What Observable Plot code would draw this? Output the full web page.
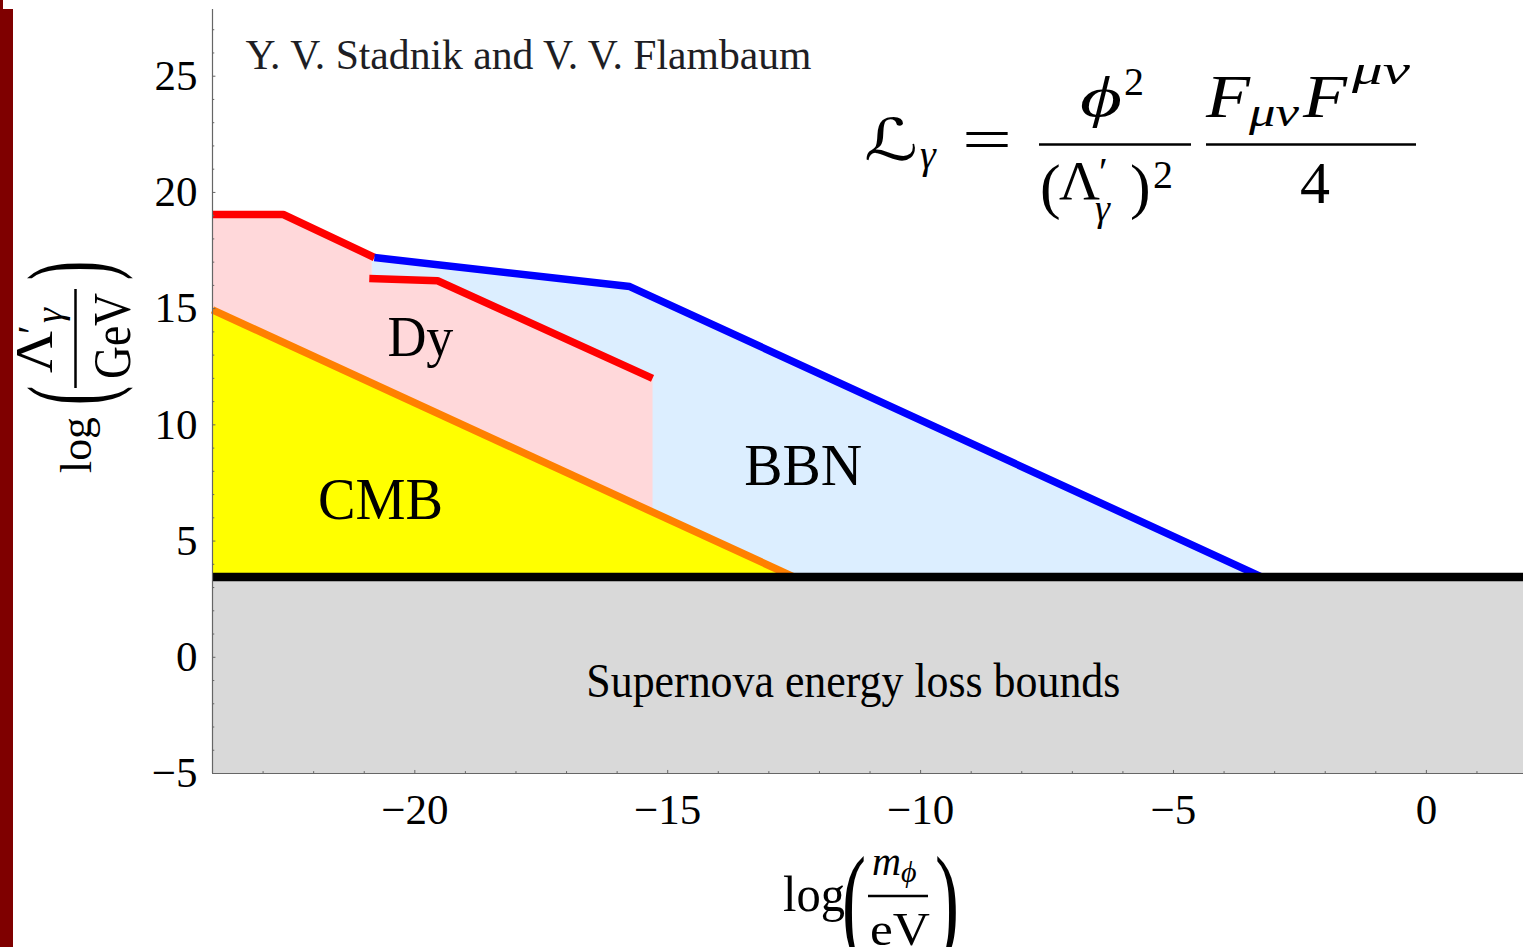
<!DOCTYPE html>
<html>
<head>
<meta charset="utf-8">
<script src="https://cdn.jsdelivr.net/npm/d3@7"></script>
<script src="https://cdn.jsdelivr.net/npm/@observablehq/plot@0.6"></script>
<style>
  html, body { margin: 0; padding: 0; background: #fff; overflow: hidden; }
  #wrap { position: relative; width: 1523px; height: 947px; }
  #strip { position: absolute; left: 0; top: 9px; width: 13px; height: 938px; background: #7f0000; }
  #strip2 { position: absolute; left: 0; top: 0; width: 3px; height: 9px; background: #7f0000; }
  #chart { position: absolute; left: 0; top: 0; }
</style>
</head>
<body>
<div id="wrap">
  <div id="chart"></div>
  <div id="strip"></div>
  <div id="strip2"></div>
</div>
<script>
// ---------- data ----------
const xDomain = [-24, 1.92];
const yDomain = [-5, 27.87];
const supernovaBound = 3.45;
const xTicks = [-20, -15, -10, -5, 0];
const yTicks = [-5, 0, 5, 10, 15, 20, 25];

// boundary curves [log m, log Lambda]
const redUpper  = [[-24, 19.05], [-22.6, 19.05], [-20.8, 17.2]];
const redLower  = [[-20.9, 16.3], [-19.55, 16.2], [-15.3, 12.0]];
const blueBBN   = [[-20.8, 17.2], [-15.75, 15.95], [-3.25, 3.45]];
const orangeCMB = [[-24, 14.95], [-12.5, 3.45]];

// shaded regions (polygons)
const bbnRegion = [[-20.85, 17.2], [-15.75, 15.95], [-3.25, 3.45], [-20.85, 3.45]];
const dyRegion  = [[-24, 19.05], [-22.6, 19.05], [-20.85, 17.2], [-20.85, 16.3], [-19.55, 16.2],
                   [-15.3, 12.0], [-15.3, 6.25], [-24, 14.95]];
const cmbRegion = [[-24, 14.95], [-12.5, 3.45], [-24, 3.45]];
const snRegion  = [{x1: -24, x2: 1.92, y1: -5, y2: 3.45}];

// labels
const titleText = "Y. V. Stadnik and V. V. Flambaum";
const regionLabels = [
  {text: "Dy", x: -19.89, y: 12.98},
  {text: "BBN", x: -12.32, y: 7.43},
  {text: "CMB", x: -20.68, y: 5.96},
  {text: "Supernova energy loss bounds", x: -11.33, y: -1.73}
];
const titlePos = {x: -23.35, y: 25.32};

// ---------- styles ----------
const labelStyle = {
  "Dy": {size: 57, len: 66},
  "BBN": {size: 59, len: 118},
  "CMB": {size: 60, len: 125},
  "Supernova energy loss bounds": {size: 48, len: 534},
  [titleText]: {size: 42, len: 566}
};
const serif = "'Liberation Serif', 'Times New Roman', serif";
const fmt = d => (d < 0 ? "\u2212" : "") + Math.abs(d);
const px = d => d[0], py = d => d[1];
const lineOpts = {x: px, y: py, strokeWidth: 7.5, strokeLinecap: "butt", strokeLinejoin: "miter"};
const poly = (data, fill) => Plot.line(data, {x: px, y: py, fill, stroke: "none", curve: "linear-closed"});

const yMinor = d3.range(-5, 28, 1);
const xMinor = d3.range(-24, 2, 1);
const tx = 0.045, tyMaj = 0.13, tyMin = 0.08;

const chart = Plot.plot({
  width: 1523, height: 947,
  marginLeft: 212, marginRight: 0, marginTop: 9, marginBottom: 174,
  x: {domain: xDomain, ticks: xTicks, tickSize: 0, tickPadding: 20, tickFormat: fmt, label: null},
  y: {domain: yDomain, ticks: yTicks, tickSize: 0, tickPadding: 15, tickFormat: fmt, label: null},
  style: {fontFamily: serif, fontSize: "43px", color: "#000", background: "transparent", overflow: "visible"},
  marks: [
    Plot.rect(snRegion, {x1: "x1", x2: "x2", y1: "y1", y2: "y2", fill: "#d9d9d9"}),
    poly(bbnRegion, "#dceeff"),
    poly(dyRegion, "#ffd8da"),
    poly(cmbRegion, "#ffff00"),
    Plot.line(orangeCMB, {...lineOpts, stroke: "#ff8000"}),
    Plot.line(redUpper, {...lineOpts, stroke: "#ff0000"}),
    Plot.line(redLower, {...lineOpts, stroke: "#ff0000"}),
    Plot.line(blueBBN, {...lineOpts, stroke: "#0000ff"}),
    Plot.ruleY([supernovaBound], {stroke: "#000", strokeWidth: 8.5}),
    // frame
    Plot.ruleX([xDomain[0]], {stroke: "#666", strokeWidth: 1.2}),
    Plot.ruleY([yDomain[0]], {stroke: "#666", strokeWidth: 1.2}),
    // inner ticks
    Plot.ruleY(yMinor, {y: d => d, x1: xDomain[0], x2: d => xDomain[0] + (d % 5 === 0 ? tx * 1.5 : tx), stroke: "#666"}),
    Plot.ruleX(xMinor, {x: d => d, y1: yDomain[0], y2: d => yDomain[0] + (d % 5 === 0 ? tyMaj : tyMin), stroke: "#666"}),
    // labels
    ...regionLabels.map(l => Plot.text([l], {x: "x", y: "y", text: "text", fontSize: labelStyle[l.text].size,
                                               textAnchor: "middle", lineAnchor: "bottom", fill: "#000"})),
    Plot.text([titlePos], {x: "x", y: "y", text: () => titleText, fontSize: labelStyle[titleText].size,
                           textAnchor: "start", lineAnchor: "bottom", fill: "#1e1e24"})
  ]
});

document.getElementById("chart").appendChild(chart);
const svg = d3.select(chart);

// exact label widths
svg.selectAll("text").each(function() {
  const s = labelStyle[this.textContent];
  if (s && this.childElementCount === 0) {
    this.setAttribute("textLength", s.len);
    this.setAttribute("lengthAdjust", "spacingAndGlyphs");
  }
});

// helper for math pieces
function put(g, str, x, y, size, opts = {}) {
  const t = g.append("text").attr("x", x).attr("y", y).text(str)
    .attr("text-anchor", "start")
    .attr("font-family", opts.family || serif)
    .attr("font-size", size)
    .attr("font-style", opts.italic ? "italic" : "normal")
    .attr("fill", "#000");
  if (opts.len) t.attr("textLength", opts.len).attr("lengthAdjust", "spacingAndGlyphs");
  return t;
}
function bar(g, x1, x2, y, w = 2.5) {
  g.append("line").attr("x1", x1).attr("x2", x2).attr("y1", y).attr("y2", y)
    .attr("stroke", "#000").attr("stroke-width", w);
}

// formula L_gamma = phi^2/(Lambda'_gamma)^2 * F F / 4
const f = svg.append("g");
put(f, "\u2112", 864, 160, 58, {family: "'DejaVu Serif', 'DejaVu Sans', serif", len: 54});
put(f, "\u03b3", 920, 168, 40, {italic: true});
put(f, "=", 962, 159, 60, {len: 50});
put(f, "\u03d5", 1080, 116, 58, {italic: true, len: 42});
put(f, "2", 1124, 95, 40);
bar(f, 1039, 1191, 144.5);
put(f, "(", 1040, 207, 62);
put(f, "\u039b", 1059, 199, 54, {len: 41});
put(f, "\u2032", 1099, 185, 40);
put(f, "\u03b3", 1095, 221, 38, {italic: true});
put(f, ")", 1130, 207, 62);
put(f, "2", 1153, 188, 40);
bar(f, 1206, 1416, 144.5);
put(f, "F", 1206, 117, 62, {italic: true, len: 44});
put(f, "\u03bc\u03bd", 1249, 126, 40, {italic: true, len: 50});
put(f, "F", 1303, 117, 62, {italic: true, len: 44});
put(f, "\u03bc\u03bd", 1352, 84, 40, {italic: true, len: 58});
put(f, "4", 1300, 203, 60);

// y axis label (rotated)
const gy = svg.append("g").attr("transform", "rotate(-90)");
put(gy, "log", -473, 91, 44, {len: 56});
put(gy, "(", -405, 108, 116, {len: 19});
put(gy, "\u039b", -373, 52, 53, {len: 42});
put(gy, "\u2032", -334, 45, 40);
put(gy, "\u03b3", -323, 62, 38, {italic: true});
bar(gy, -388, -289, 75.5);
put(gy, "GeV", -379, 130, 52, {len: 86});
put(gy, ")", -280, 108, 116, {len: 19});

// x axis label
const gx = svg.append("g");
put(gx, "log", 783, 911, 50, {len: 62});
put(gx, "(", 842, 943, 124, {len: 24});
put(gx, "m", 872, 875, 40, {italic: true, len: 29});
put(gx, "\u03d5", 901, 882, 30, {italic: true});
bar(gx, 868, 928, 896);
put(gx, "eV", 870, 945, 46, {len: 60});
put(gx, ")", 935, 943, 124, {len: 24});
</script>
</body>
</html>
